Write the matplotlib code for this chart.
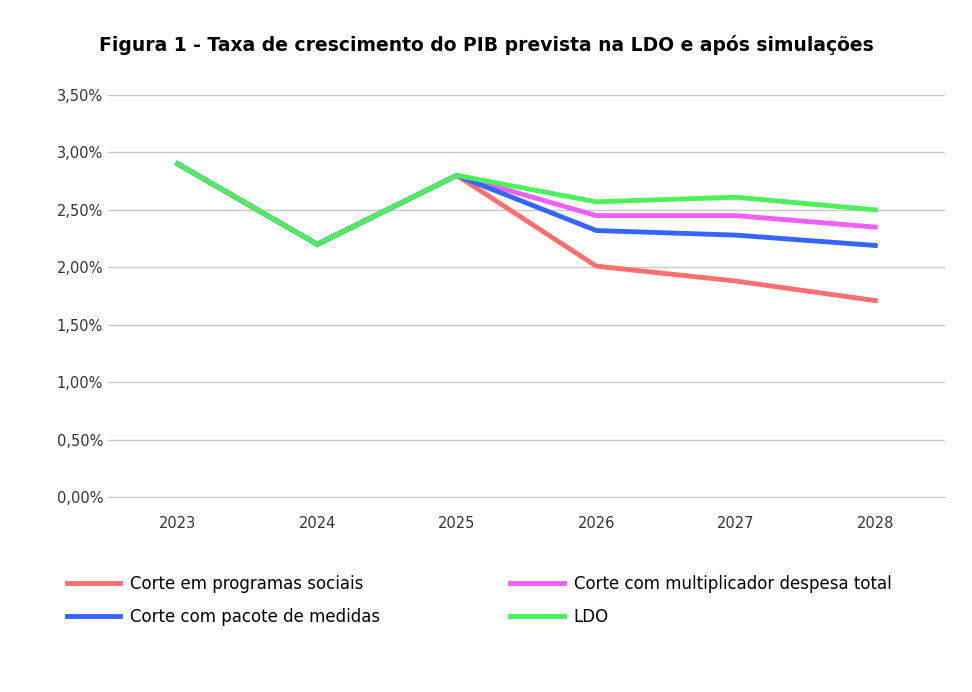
import matplotlib
matplotlib.use("Agg")
import matplotlib.pyplot as plt
from matplotlib.ticker import FuncFormatter

years = ["2023", "2024", "2025", "2026", "2027", "2028"]
sociais = [2.90, 2.20, 2.80, 2.01, 1.88, 1.71]
multiplicador = [2.90, 2.20, 2.80, 2.45, 2.45, 2.35]
pacote = [2.90, 2.20, 2.80, 2.32, 2.28, 2.19]
ldo = [2.90, 2.20, 2.80, 2.57, 2.61, 2.50]

fig = plt.figure(figsize=(9.72, 6.92), dpi=100)
ax = fig.add_axes([108 / 972, 1 - 497 / 692, (945 - 108) / 972, (497 - 95) / 692])

x = range(len(years))
ax.plot(x, sociais, color="#ff6f6f", lw=3.5, label="Corte em programas sociais")
ax.plot(x, multiplicador, color="#f060f8", lw=3.5, label="Corte com multiplicador despesa total")
ax.plot(x, pacote, color="#3366ff", lw=3.5, label="Corte com pacote de medidas")
ax.plot(x, ldo, color="#4cf05a", lw=3.5, label="LDO")

ax.set_xlim(-0.5, 5.5)
ax.set_ylim(0, 3.5)
ax.set_yticks([i * 0.5 for i in range(8)])
ax.yaxis.set_major_formatter(FuncFormatter(lambda v, p: f"{v:.2f}%".replace(".", ",")))
ax.set_xticks(list(x))
ax.set_xticklabels(years)
ax.grid(axis="y", color="#c8c8c8", lw=1)
ax.set_axisbelow(True)
for s in ["top", "right", "left"]:
    ax.spines[s].set_visible(False)
ax.spines["bottom"].set_color("#c8c8c8")
ax.tick_params(length=0, labelsize=10.5, colors="#333333")
ax.tick_params(axis="x", pad=14)

fig.text(0.5, 1 - 45 / 692, "Figura 1 - Taxa de crescimento do PIB prevista na LDO e após simulações",
         ha="center", va="center", fontsize=13.5, fontweight="bold")

h, l = ax.get_legend_handles_labels()
order = [0, 2, 1, 3]
fig.legend([h[i] for i in order], [l[i] for i in order], ncol=2, frameon=False,
           loc="upper left", bbox_to_anchor=(52 / 972, 1 - 560 / 692), fontsize=12,
           handlelength=3.2, handletextpad=0.6, columnspacing=7.8, labelspacing=0.9)

fig.savefig("out.png", dpi=100, facecolor="white")
